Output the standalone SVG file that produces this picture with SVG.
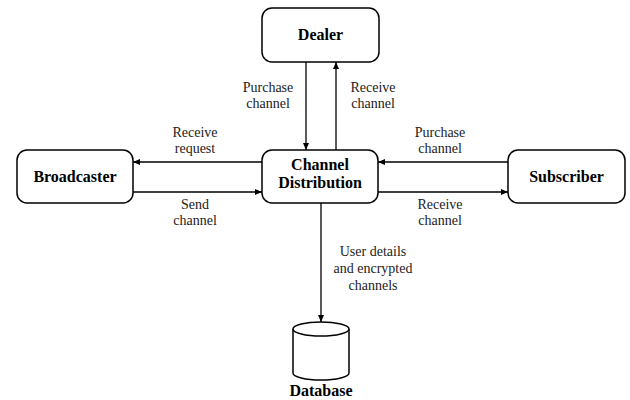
<svg xmlns="http://www.w3.org/2000/svg" width="630" height="400" viewBox="0 0 630 400">
<defs>
<marker id="ah" markerWidth="8" markerHeight="8" refX="7" refY="4" orient="auto" markerUnits="userSpaceOnUse">
<path d="M0,1 L7,4 L0,7 Z" fill="#000"/>
</marker>
<style>
.box{fill:#fff;stroke:#000;stroke-width:1.5}
.nt{font-family:"Liberation Serif","Times New Roman",Times,serif;font-weight:bold;font-size:16px;text-anchor:middle}
.lb{font-family:"Liberation Serif","Times New Roman",Times,serif;font-size:14px;text-anchor:middle;fill:#222}
.ln{stroke:#000;stroke-width:1.3;fill:none;marker-end:url(#ah)}
</style>
</defs>
<rect width="630" height="400" fill="#fff"/>
<g id="connectors">
<line class="ln" x1="306" y1="62" x2="306" y2="150"/>
<line class="ln" x1="336" y1="150" x2="336" y2="62"/>
<line class="ln" x1="262" y1="162" x2="133" y2="162"/>
<line class="ln" x1="133" y1="192" x2="262" y2="192"/>
<line class="ln" x1="508" y1="162" x2="378" y2="162"/>
<line class="ln" x1="378" y1="192" x2="508" y2="192"/>
<line class="ln" x1="321" y1="203" x2="321" y2="322"/>
<text class="lb" x="268" y="92">Purchase</text>
<text class="lb" x="268" y="108">channel</text>
<text class="lb" x="373" y="92">Receive</text>
<text class="lb" x="373" y="108">channel</text>
<text class="lb" x="195" y="137">Receive</text>
<text class="lb" x="195" y="153">request</text>
<text class="lb" x="195" y="209">Send</text>
<text class="lb" x="195" y="225">channel</text>
<text class="lb" x="440" y="137">Purchase</text>
<text class="lb" x="440" y="153">channel</text>
<text class="lb" x="440" y="209">Receive</text>
<text class="lb" x="440" y="225">channel</text>
<text class="lb" x="373" y="256">User details</text>
<text class="lb" x="373" y="273">and encrypted</text>
<text class="lb" x="373" y="290">channels</text>
</g>
<g id="dealer">
<rect class="box" x="262" y="8" width="117" height="54" rx="10"/>
<text class="nt" x="320.5" y="40">Dealer</text>
</g>
<g id="broadcaster">
<rect class="box" x="17" y="150" width="116" height="53" rx="10"/>
<text class="nt" x="75" y="182">Broadcaster</text>
</g>
<g id="channel-distribution">
<rect class="box" x="262" y="150" width="116" height="53" rx="10"/>
<text class="nt" x="320" y="170">Channel</text>
<text class="nt" x="320" y="188">Distribution</text>
</g>
<g id="subscriber">
<rect class="box" x="508" y="150" width="117" height="53" rx="10"/>
<text class="nt" x="566.5" y="182">Subscriber</text>
</g>
<g id="database">
<path class="box" d="M293,329 L293,373 A28,7 0 0 0 349,373 L349,329"/>
<ellipse class="box" cx="321" cy="329" rx="28" ry="7"/>
<text class="nt" x="321" y="396">Database</text>
</g>
</svg>
